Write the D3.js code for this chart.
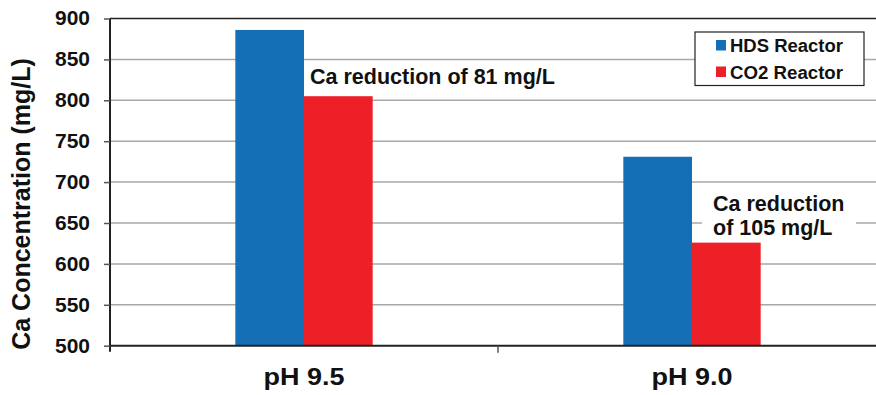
<!DOCTYPE html>
<html>
<head>
<meta charset="utf-8">
<script src="https://cdn.jsdelivr.net/npm/d3@7"></script>
<style>
  body { margin: 0; background: #fff; }
  text { font-family: "Liberation Sans", Arial, sans-serif; font-weight: bold; fill: #111; }
</style>
</head>
<body>
<script>
// data
const categories = ['pH 9.5', 'pH 9.0'];
const seriesNames = ['HDS Reactor', 'CO2 Reactor'];
const hdsValues = [886, 731];
const co2Values = [805, 626];
const yTicks = [500, 550, 600, 650, 700, 750, 800, 850, 900];
const notes = [
  { cat: 'pH 9.5', lines: ['Ca reduction of 81 mg/L'] },
  { cat: 'pH 9.0', lines: ['Ca reduction', 'of 105 mg/L'] }
];

const width = 876, height = 395;
const colors = { 'HDS Reactor': '#156fb7', 'CO2 Reactor': '#ed2027' };

const svg = d3.select('body').append('svg')
    .attr('width', width)
    .attr('height', height);

// scales
const x0 = d3.scaleBand().domain(categories).range([110, 886]).padding(0);
const y = d3.scaleLinear().domain([500, 900]).range([345.7, 18.5]);
const groupW = x0.bandwidth() * 0.354;
const x1 = d3.scaleBand().domain(seriesNames).range([-groupW / 2, groupW / 2]);

// grid lines
svg.append('g').selectAll('line')
    .data(yTicks.filter(d => d > 500 && d < 900))
    .enter().append('line')
    .attr('x1', 110).attr('x2', width)
    .attr('y1', d => y(d)).attr('y2', d => y(d))
    .style('stroke', '#a8a8a8')
    .style('stroke-width', 1.5);

// top line
svg.append('line')
    .attr('x1', 110).attr('x2', width)
    .attr('y1', y(900)).attr('y2', y(900))
    .style('stroke', '#222').style('stroke-width', 1.5);

// white box behind second note (it cuts the grid line)
const n2x = x0('pH 9.0') + x0.bandwidth() / 2;
svg.append('rect')
    .attr('x', n2x + 10).attr('y', y(690))
    .attr('width', 154).attr('height', y(630) - y(690) - 4)
    .style('fill', '#fff');

// bars
const rows = categories.map((c, i) => ({ cat: c, 'HDS Reactor': hdsValues[i], 'CO2 Reactor': co2Values[i] }));
const groups = svg.append('g').selectAll('g')
    .data(rows)
    .enter().append('g')
    .attr('transform', d => `translate(${x0(d.cat) + x0.bandwidth() / 2},0)`);

groups.selectAll('rect')
    .data(d => seriesNames.map(s => ({ s, v: d[s] })))
    .enter().append('rect')
    .attr('x', d => x1(d.s))
    .attr('width', x1.bandwidth())
    .attr('y', d => y(d.v))
    .attr('height', d => y(500) - y(d.v))
    .style('fill', d => colors[d.s]);

// y axis
const yAxis = svg.append('g')
    .attr('transform', 'translate(110,0)')
    .call(d3.axisLeft(y).tickValues(yTicks).tickSize(6).tickPadding(14).tickSizeOuter(0));
yAxis.select('.domain').style('stroke', '#222').style('stroke-width', 2);
yAxis.selectAll('.tick line').style('stroke', '#555').style('stroke-width', 1.5);
yAxis.selectAll('.tick text')
    .attr('textLength', 35)
    .attr('lengthAdjust', 'spacingAndGlyphs')
    .style('font-size', '20px')
    .style('font-family', '"Liberation Sans", Arial, sans-serif')
    .style('font-weight', 'bold')
    .style('fill', '#111');
yAxis.select('.domain').attr('d', `M0,${y(900)}V${y(500) + 6}`);

// x axis
const xAxis = svg.append('g')
    .attr('transform', `translate(0,${y(500)})`)
    .call(d3.axisBottom(x0).tickSize(0).tickPadding(0).tickFormat(''));
xAxis.select('.domain').attr('d', `M110,0H${width}`).style('stroke', '#222').style('stroke-width', 2);
xAxis.selectAll('.tick').remove();
xAxis.selectAll('line.sep')
    .data(categories.map(c => x0(c)).slice(1))
    .enter().append('line')
    .attr('class', 'sep')
    .attr('x1', d => d).attr('x2', d => d)
    .attr('y1', 0).attr('y2', 7)
    .style('stroke', '#555').style('stroke-width', 1.5);

svg.append('g').selectAll('text')
    .data(categories)
    .enter().append('text')
    .attr('x', d => x0(d) + x0.bandwidth() / 2)
    .attr('y', 385)
    .attr('text-anchor', 'middle')
    .attr('textLength', 81)
    .attr('lengthAdjust', 'spacingAndGlyphs')
    .style('font-size', '23.5px')
    .text(d => d);

// y axis title
svg.append('text')
    .attr('transform', 'translate(30,204) rotate(-90)')
    .attr('text-anchor', 'middle')
    .style('font-size', '25px')
    .text('Ca Concentration (mg/L)');

// notes
notes.forEach(n => {
  const cx = x0(n.cat) + x0.bandwidth() / 2;
  const t = svg.append('text')
      .style('font-size', '21.5px');
  t.selectAll('tspan')
    .data(n.lines)
    .enter().append('tspan')
    .attr('x', n.lines.length === 1 ? cx + 6 : cx + 21)
    .attr('y', (d, i) => (n.lines.length === 1 ? 84 : 211) + i * 24)
    .text(d => d);
});

// legend
const legend = svg.append('g').attr('transform', 'translate(695,32)');
legend.append('rect')
    .attr('width', 169).attr('height', 53.5)
    .style('fill', '#fff').style('stroke', '#222').style('stroke-width', 1.2);
const items = legend.selectAll('g.item')
    .data(seriesNames)
    .enter().append('g')
    .attr('class', 'item')
    .attr('transform', (d, i) => `translate(0,${8 + i * 26.5})`);
items.append('rect')
    .attr('x', 21).attr('width', 10).attr('height', 10.5)
    .style('fill', d => colors[d]);
items.append('text')
    .attr('x', 35).attr('y', 12)
    .attr('textLength', 113)
    .attr('lengthAdjust', 'spacingAndGlyphs')
    .style('font-size', '18px')
    .text(d => d);
</script>
</body>
</html>
